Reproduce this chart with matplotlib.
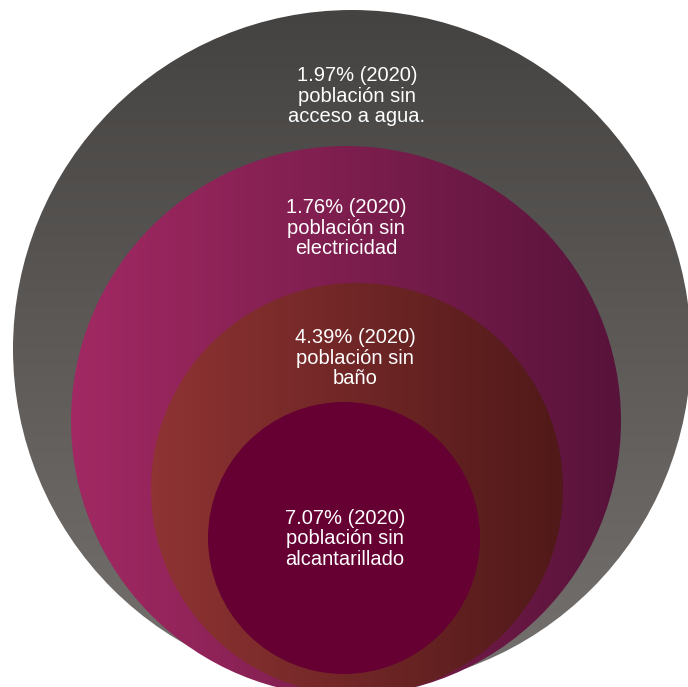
import numpy as np
import matplotlib
matplotlib.use("Agg")
import matplotlib.pyplot as plt
from matplotlib.patches import Circle
from matplotlib.colors import LinearSegmentedColormap

plt.rcParams['font.family'] = ['Liberation Sans', 'DejaVu Sans']

# datos (2020)
valores = [1.97, 1.76, 4.39, 7.07]
anio = 2020
descripciones = ["población sin\nacceso a agua.",
                 "población sin\nelectricidad",
                 "población sin\nbaño",
                 "población sin\nalcantarillado"]

# circulos anidados: centro x, centro y, radio (en pixeles)
circulos = [(352, 349, 339), (346, 421, 275), (357, 489, 206), (344, 538, 136)]
# gradientes: (color inicio, color fin, direccion)
colores = [("#454341", "#75716f", "v"),
           ("#a22963", "#58133a", "h"),
           ("#8f3333", "#511919", "h"),
           ("#660033", "#660033", "h")]
pos_texto = [(357, 96), (346, 228), (355, 358), (345, 539)]

fig = plt.figure(figsize=(6.88, 6.87), dpi=100)
ax = fig.add_axes([0, 0, 1, 1])

for (cx, cy, r), (c1, c2, d) in zip(circulos, colores):
    cmap = LinearSegmentedColormap.from_list("g", [c1, c2])
    grad = np.linspace(0, 1, 256)
    if d == "v":
        arr = grad[:, None] * np.ones((1, 2))
    else:
        arr = grad[None, :] * np.ones((2, 1))
    circ = Circle((cx, cy), r, facecolor="none", edgecolor="none")
    ax.add_patch(circ)
    im = ax.imshow(arr, cmap=cmap, vmin=0, vmax=1, origin="upper",
                   extent=(cx - r, cx + r, cy + r, cy - r),
                   aspect="auto", interpolation="bilinear")
    im.set_clip_path(circ)

for v, desc, (tx, ty) in zip(valores, descripciones, pos_texto):
    ax.text(tx, ty, f"{v:.2f}% ({anio})\n{desc}", color="white",
            fontsize=14.5, ha="center", va="center", linespacing=1.1)

ax.set_xlim(0, 688)
ax.set_ylim(687, 0)
ax.axis("off")
fig.savefig("out.png", dpi=100, facecolor="white")
